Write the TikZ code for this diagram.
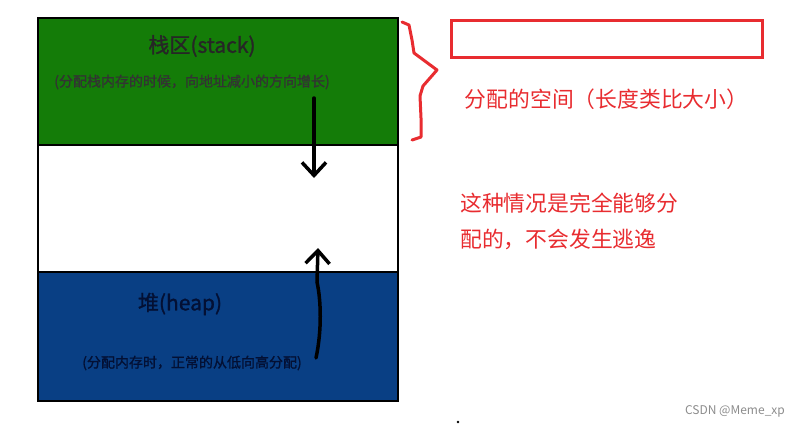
\documentclass[tikz,border=0pt]{standalone}
\usepackage{fontspec}
\setmainfont{Noto Sans CJK SC}
\newfontfamily\heavycjk[FakeBold=1.2]{Noto Sans CJK SC}
\usetikzlibrary{arrows.meta, positioning}
\definecolor{stackgreen}{RGB}{20, 124, 8}
\definecolor{heapblue}{RGB}{9, 63, 132}
\definecolor{noteblue}{RGB}{3, 16, 52}
\definecolor{markred}{RGB}{232, 44, 48}
\definecolor{csdngray}{RGB}{140, 140, 140}

\begin{document}
\begin{tikzpicture}[
        x=1pt, y=-1pt,
        regionbox/.style={rectangle, draw=black, line width=2.5pt, minimum width=360pt, inner sep=0pt},
        titletext/.style={inner sep=0pt, font=\heavycjk\fontsize{21}{24}\selectfont},
        notetext/.style={inner sep=0pt, font=\heavycjk\fontsize{14}{16}\selectfont},
        remarktext/.style={inner sep=0pt, text=markred, align=left, font=\fontsize{21.8}{36}\selectfont},
        growarrow/.style={-{Straight Barb[length=13pt, width=24pt]}, line width=3.5pt, line cap=round}
    ]
        \useasboundingbox (0,0) rectangle (805,428);

        % Memory regions
        \node (gap) [regionbox, fill=white, minimum height=127pt] at (218,208.5) {};
        \node (stack) [regionbox, fill=stackgreen, minimum height=127pt] at (218,81.5) {};
        \node (heap) [regionbox, fill=heapblue, minimum height=129pt] at (218,336.5) {};

        % Region labels
        \node (stacktitle) [titletext, text=black!85] at (202,46) {栈区(stack)};
        \node (stacknote) [notetext, text=black!80] at (192,82) {(分配栈内存的时候，向地址减小的方向增长)};
        \node (heaptitle) [titletext, text=noteblue] at (180,304) {堆(heap)};
        \node (heapnote) [notetext, text=noteblue] at (192,363) {(分配内存时，正常的从低向高分配)};

        % Growth arrows
        \coordinate (stacktop) at (314,98);
        \coordinate (stacktip) at (314,178);
        \coordinate (heapfoot) at (316,358);
        \coordinate (heaptip) at (318,248);
        \draw [growarrow] (stacktop) -- (stacktip);
        \draw [growarrow] (heapfoot) .. controls (322,330) and (321,300) .. (317,282) -- (heaptip);

        % Brace and allocated space
        \draw [markred, line width=3pt, line join=round, line cap=round]
            (402,22) -- (409,25) -- (412,40) -- (414,53) -- (437,70) -- (423,86)
            -- (420,96) -- (421,118) -- (421,137) -- (412,140);
        \node (space) [rectangle, draw=markred, line width=3pt, minimum width=311pt, minimum height=37pt, inner sep=0pt] at (606.5,39) {};
        \node (spacelabel) [remarktext, below=30pt of space] {分配的空间（长度类比大小）};
        \node (verdict) [remarktext, anchor=west] at (460,221) {这种情况是完全能够分\\配的，不会发生逃逸};

        % Watermark
        \fill (458,422) circle (1.3pt);
        \node (mark) [inner sep=0pt, text=csdngray, font=\fontsize{12}{14}\selectfont] at (735,411) {CSDN @Meme\_xp};
    \end{tikzpicture}
\end{document}
